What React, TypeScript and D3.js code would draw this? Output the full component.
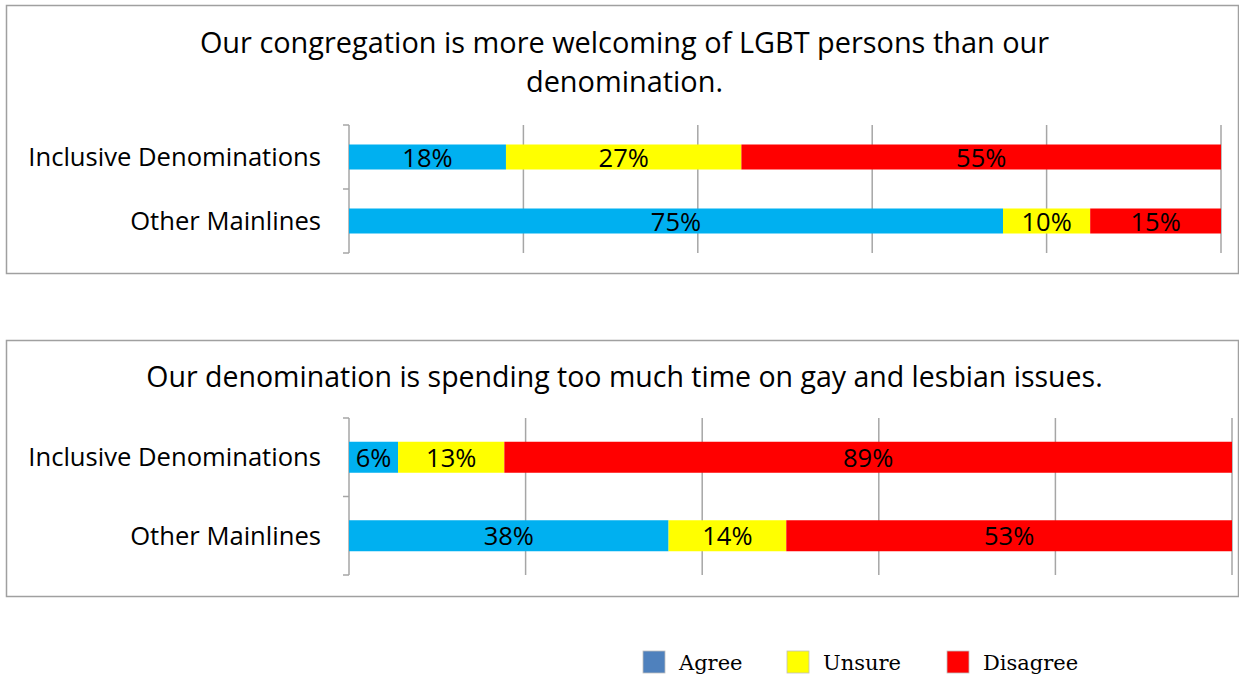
import React from "react";
import * as d3 from "d3";

const categories = ["Inclusive Denominations", "Other Mainlines"];
const seriesNames = ["Agree", "Unsure", "Disagree"];
const colors = ["#00B0F0", "#FFFF00", "#FF0000"];
const legendColors = ["#4F81BD", "#FFFF00", "#FF0000"];

const title1 = ["Our congregation is more welcoming of LGBT persons than our", "denomination."];
const agree1 = [18, 75];
const unsure1 = [27, 10];
const disagree1 = [55, 15];

const title2 = ["Our denomination is spending too much time on gay and lesbian issues."];
const agree2 = [6, 38];
const unsure2 = [13, 14];
const disagree2 = [89, 53];

const gridTicks = [0, 0.2, 0.4, 0.6, 0.8, 1];

const FONT = "'Open Sans', 'Noto Sans', sans-serif";

type PanelProps = {
  box: [number, number, number, number];
  titleLines: string[];
  titleY: number[];
  titleSize: number;
  x0: number;
  x1: number;
  y0: number;
  y1: number;
  barH: number;
  values: number[][];
};

function Panel({ box, titleLines, titleY, titleSize, x0, x1, y0, y1, barH, values }: PanelProps) {
  const x = d3.scaleLinear().domain([0, 1]).range([x0, x1]);
  const y = d3.scaleBand<string>().domain(categories).range([y0, y1]);
  const titleX = (box[0] + box[2]) / 2 + 2;
  return (
    <g>
      <rect x={box[0]} y={box[1]} width={box[2] - box[0]} height={box[3] - box[1]} fill="#fff" stroke="#A0A0A0" strokeWidth={1.5} />
      {titleLines.map((t, i) => (
        <text key={i} x={titleX} y={titleY[i]} textAnchor="middle" fontFamily={FONT} fontSize={titleSize} fill="#000">{t}</text>
      ))}
      {gridTicks.slice(1).map((t) => (
        <line key={t} x1={x(t)} x2={x(t)} y1={y0} y2={y1} stroke="#A6A6A6" strokeWidth={1.5} />
      ))}
      <line x1={x0} x2={x0} y1={y0} y2={y1} stroke="#A6A6A6" strokeWidth={1.5} />
      {[y0, y0 + y.bandwidth(), y1].map((v, i) => (
        <line key={i} x1={x0 - 6} x2={x0} y1={v} y2={v} stroke="#A6A6A6" strokeWidth={1.5} />
      ))}
      {categories.map((c, ci) => {
        const vals = values.map((s) => s[ci]);
        const total = d3.sum(vals);
        let acc = 0;
        const cy = (y(c) as number) + y.bandwidth() / 2;
        return (
          <g key={c}>
            <text x={x0 - 28} y={cy} dy="0.35em" textAnchor="end" fontFamily={FONT} fontSize={25.6} fill="#000">{c}</text>
            {vals.map((v, si) => {
              const a = acc / total;
              acc += v;
              const b = acc / total;
              return (
                <g key={si}>
                  <rect x={x(a)} y={cy - barH / 2} width={x(b) - x(a)} height={barH} fill={colors[si]} />
                  <text x={(x(a) + x(b)) / 2} y={cy} dy="0.38em" textAnchor="middle" fontFamily={FONT} fontSize={25.5} fill="#000">{v}%</text>
                </g>
              );
            })}
          </g>
        );
      })}
    </g>
  );
}

export default function App() {
  const legendX = [643, 787, 947];
  return (
    <svg width={1239} height={679} style={{ position: "absolute", left: 0, top: 0, background: "#fff" }}>
      <rect x={0} y={0} width={1239} height={679} fill="#fff" />
      <Panel
        box={[6.5, 5.5, 1238.5, 273.5]}
        titleLines={title1}
        titleY={[53, 92]}
        titleSize={28.9}
        x0={349}
        x1={1221}
        y0={125}
        y1={253}
        barH={25}
        values={[agree1, unsure1, disagree1]}
      />
      <Panel
        box={[6.5, 340.5, 1238.5, 596.5]}
        titleLines={title2}
        titleY={[387]}
        titleSize={28.5}
        x0={349}
        x1={1232}
        y0={418}
        y1={575}
        barH={31}
        values={[agree2, unsure2, disagree2]}
      />
      {seriesNames.map((s, i) => (
        <g key={s}>
          <rect x={legendX[i]} y={651} width={22} height={22} fill={legendColors[i]} stroke="#BFBFBF" strokeWidth={0.8} />
          <text x={legendX[i] + 36} y={663} dy="0.35em" fontFamily="'DejaVu Serif', 'Liberation Serif', serif" fontSize={21} fill="#000">{s}</text>
        </g>
      ))}
    </svg>
  );
}
